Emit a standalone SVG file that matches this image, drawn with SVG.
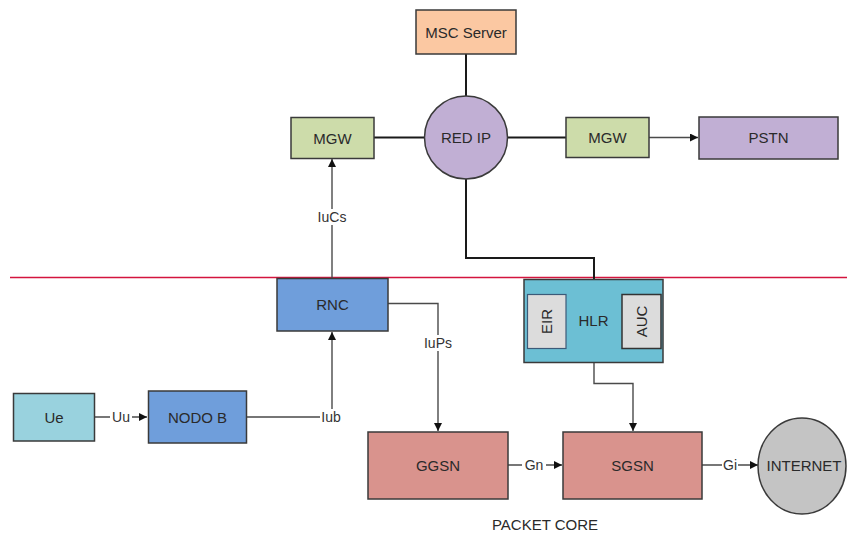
<svg xmlns="http://www.w3.org/2000/svg" width="847" height="544" viewBox="0 0 847 544">
<defs>
<style>
.n{stroke:#3a3a3a;stroke-width:1.5}
.t{font-family:"Liberation Sans",Arial,sans-serif;font-size:15px;fill:#2a2a2a;text-anchor:middle;dominant-baseline:central}
.l{font-family:"Liberation Sans",Arial,sans-serif;font-size:14px;fill:#333;text-anchor:middle;dominant-baseline:central}
.k{fill:none;stroke:#1a1a1a;stroke-width:2}
.c{fill:none;stroke:#4a4a4a;stroke-width:1.4}
.lb{fill:#fff}
</style>
<marker id="a" viewBox="0 0 10 10" refX="10" refY="5" markerWidth="8" markerHeight="8" markerUnits="userSpaceOnUse" orient="auto"><path d="M0,0L10,5L0,10z" fill="#111"/></marker>
</defs>
<line x1="10" y1="277.5" x2="847" y2="277.5" stroke="#d4143e" stroke-width="1.5"/>
<g id="connectors">
<path class="k" d="M466,54V96"/>
<path class="k" d="M374,137.5H425"/>
<path class="k" d="M507,137.5H566"/>
<path class="c" d="M649,137.5H698" marker-end="url(#a)"/>
<path class="k" d="M466,178V258H594V279"/>
<path class="c" d="M332,278V159" marker-end="url(#a)"/>
<rect class="lb" x="314" y="209" width="36" height="16"/>
<text class="l" x="332" y="217">IuCs</text>
<path class="c" d="M94,417H147" marker-end="url(#a)"/>
<rect class="lb" x="110" y="409" width="22" height="16"/>
<text class="l" x="121" y="417">Uu</text>
<path class="c" d="M247,417H332V332" marker-end="url(#a)"/>
<rect class="lb" x="320" y="409" width="22" height="16"/>
<text class="l" x="331" y="417">Iub</text>
<path class="c" d="M388,303.5H438V431" marker-end="url(#a)"/>
<rect class="lb" x="421" y="335" width="34" height="16"/>
<text class="l" x="438" y="343">IuPs</text>
<path class="c" d="M594,363V383.5H633V431" marker-end="url(#a)"/>
<path class="c" d="M508,465H562" marker-end="url(#a)"/>
<rect class="lb" x="522" y="457" width="24" height="16"/>
<text class="l" x="534" y="465">Gn</text>
<path class="c" d="M702,465H758" marker-end="url(#a)"/>
<rect class="lb" x="722" y="457" width="16" height="16"/>
<text class="l" x="730" y="465">Gi</text>
</g>
<g id="msc"><rect class="n" x="416" y="10" width="100" height="44" fill="#fbc8a2"/><text class="t" x="466" y="32">MSC Server</text></g>
<g id="mgw1"><rect class="n" x="291" y="117.5" width="83" height="41" fill="#cddcaa"/><text class="t" x="332.5" y="138">MGW</text></g>
<g id="redip"><circle class="n" cx="466" cy="137.5" r="41.5" fill="#c1afd4"/><text class="t" x="466" y="137.5">RED IP</text></g>
<g id="mgw2"><rect class="n" x="566" y="117.5" width="83" height="40" fill="#cddcaa"/><text class="t" x="607.5" y="137.5">MGW</text></g>
<g id="pstn"><rect class="n" x="699" y="117" width="139" height="42" fill="#c1afd4"/><text class="t" x="768.5" y="137.5">PSTN</text></g>
<g id="rnc"><rect class="n" x="277" y="278.5" width="111" height="52.5" fill="#6f9edb"/><text class="t" x="332.5" y="304">RNC</text></g>
<g id="hlr"><rect class="n" x="524" y="279.5" width="139" height="83" fill="#6cbfd4"/><text class="t" x="593.5" y="320">HLR</text>
<rect x="527.5" y="294.5" width="38.5" height="54" fill="#dcdcdc" stroke="#3c5a78" stroke-width="1.2"/><text class="t" transform="translate(546.5,321.5) rotate(-90)">EIR</text>
<rect x="622" y="294.5" width="39" height="54" fill="#dcdcdc" stroke="#333" stroke-width="1.5"/><text class="t" transform="translate(641.5,321.5) rotate(-90)">AUC</text></g>
<g id="ue"><rect class="n" x="13.5" y="393.5" width="81" height="47.5" fill="#99d2de"/><text class="t" x="54" y="417">Ue</text></g>
<g id="nodob"><rect class="n" x="148.5" y="391" width="98" height="52" fill="#6f9edb"/><text class="t" x="197.5" y="417">NODO B</text></g>
<g id="ggsn"><rect class="n" x="368" y="432" width="140" height="67" fill="#d9938d"/><text class="t" x="438" y="465">GGSN</text></g>
<g id="sgsn"><rect class="n" x="563" y="432" width="139" height="67" fill="#d9938d"/><text class="t" x="632.5" y="465">SGSN</text></g>
<g id="internet"><ellipse class="n" cx="802" cy="466" rx="44" ry="48" fill="#c4c4c4"/><text class="t" x="804" y="465">INTERNET</text></g>
<text class="t" x="545" y="524">PACKET CORE</text>
</svg>
